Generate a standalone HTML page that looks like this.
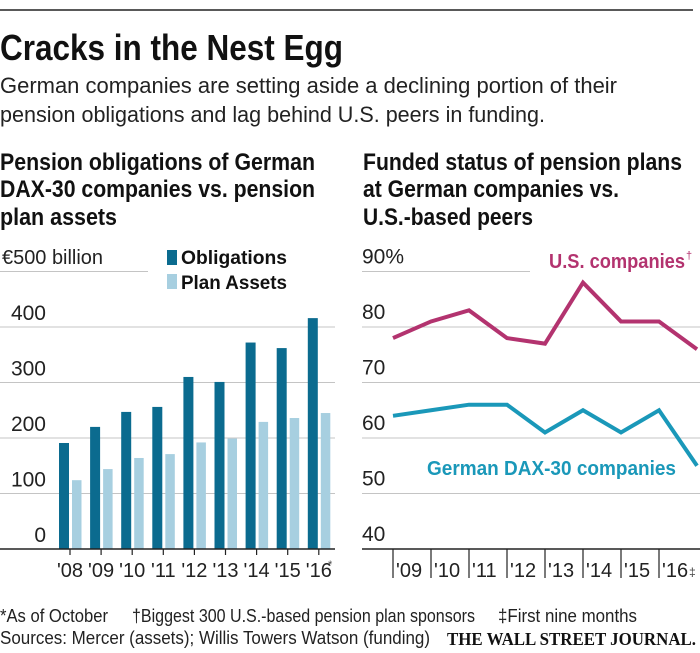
<!DOCTYPE html>
<html><head><meta charset="utf-8">
<style>
html,body{margin:0;padding:0;background:#fff;}
svg{display:block;font-family:"Liberation Sans",sans-serif;}
</style></head>
<body>
<svg id="chart" width="700" height="653" viewBox="0 0 700 653" xmlns="http://www.w3.org/2000/svg">
<line x1="0" y1="10" x2="693" y2="10" stroke="#222" stroke-width="1.5"/>
<text x="0" y="60" font-size="36" font-weight="bold" textLength="343" lengthAdjust="spacingAndGlyphs" fill="#111">Cracks in the Nest Egg</text>
<text x="0" y="93" font-size="22" textLength="617" lengthAdjust="spacingAndGlyphs" fill="#222">German companies are setting aside a declining portion of their</text>
<text x="0" y="122" font-size="22" textLength="545" lengthAdjust="spacingAndGlyphs" fill="#222">pension obligations and lag behind U.S. peers in funding.</text>
<g font-size="24" font-weight="bold" fill="#111">
<text x="0" y="170" textLength="315" lengthAdjust="spacingAndGlyphs">Pension obligations of German</text>
<text x="0" y="197" textLength="315" lengthAdjust="spacingAndGlyphs">DAX-30 companies vs. pension</text>
<text x="0" y="225" textLength="117" lengthAdjust="spacingAndGlyphs">plan assets</text>
</g>
<g font-size="24" font-weight="bold" fill="#111">
<text x="363" y="170" textLength="319" lengthAdjust="spacingAndGlyphs">Funded status of pension plans</text>
<text x="363" y="197" textLength="256" lengthAdjust="spacingAndGlyphs">at German companies vs.</text>
<text x="363" y="225" textLength="170" lengthAdjust="spacingAndGlyphs">U.S.-based peers</text>
</g>
<g id="left"></g>
<g id="right"></g>
<g font-size="18" fill="#222">
<text x="0" y="622" textLength="108" lengthAdjust="spacingAndGlyphs">*As of October</text>
<text x="132" y="622" textLength="343" lengthAdjust="spacingAndGlyphs">†Biggest 300 U.S.-based pension plan sponsors</text>
<text x="498" y="622" textLength="139" lengthAdjust="spacingAndGlyphs">‡First nine months</text>
<text x="0" y="644" textLength="430" lengthAdjust="spacingAndGlyphs">Sources: Mercer (assets); Willis Towers Watson (funding)</text>
</g>
<text x="447" y="645" font-family="Liberation Serif,serif" font-weight="bold" font-size="18" textLength="249" lengthAdjust="spacingAndGlyphs" fill="#111">THE WALL STREET JOURNAL.</text>
<script>
const barYears = ["'08","'09","'10","'11","'12","'13","'14","'15","'16"];
const obligations = [191,220,247,256,310,301,372,362,416];
const planAssets = [124,144,164,171,192,199,229,236,245];
const barTicks = [0,100,200,300,400];
const lineYears = ["'09","'10","'11","'12","'13","'14","'15","'16"];
const usFunded = [78,81,83,78,77,88,81,81,76];
const germanFunded = [64,65,66,66,61,65,61,65,55];
const lineTicks = [40,50,60,70,80,90];

const NS="http://www.w3.org/2000/svg";
function mk(parent,tag,attrs,text){const e=document.createElementNS(NS,tag);for(const k in attrs)e.setAttribute(k,attrs[k]);if(text!==undefined)e.textContent=text;parent.appendChild(e);return e;}

const L=document.getElementById('left');
const yL=v=>549-v*0.555;
const xL=i=>70+i*31.1;
barTicks.forEach(t=>{
  if(t>0){const g=mk(L,'line',{x1:0,x2:335,y1:yL(t),y2:yL(t),stroke:'#c4c4c4','stroke-width':1});
  
  }
  const lb=mk(L,'text',{x:46,y:yL(t)-7,'font-size':21,'text-anchor':'end',fill:'#222'},String(t));
  
  
});
{const g=mk(L,'line',{x1:0,x2:148,y1:yL(500),y2:yL(500),stroke:'#c4c4c4','stroke-width':1});


const t=mk(L,'text',{x:2,y:264,'font-size':20,textLength:101,lengthAdjust:'spacingAndGlyphs',fill:'#222'},'€500 billion');

}
obligations.forEach((v,i)=>{
  const r=mk(L,'rect',{x:xL(i)-11,y:yL(v),width:10,height:v*0.555,fill:'#0b6b8f'});
  
  
});
planAssets.forEach((v,i)=>{
  const r=mk(L,'rect',{x:xL(i)+2,y:yL(v),width:9.5,height:v*0.555,fill:'#a7cfe0'});
  
  
});
{const a=mk(L,'line',{x1:0,x2:335,y1:549,y2:549,stroke:'#222','stroke-width':1.5});

}
barYears.forEach((y,i)=>{
  const tk=mk(L,'line',{x1:xL(i),x2:xL(i),y1:549,y2:555,stroke:'#222','stroke-width':1.2});
  
  
  const lb=mk(L,'text',{x:xL(i),y:577,'font-size':20,'text-anchor':'middle',fill:'#222'},y);
  
  
});
{const s=mk(L,'text',{x:328,y:568,'font-size':11,fill:'#444'},'*');

}
[['Obligations','#0b6b8f',250,264],['Plan Assets','#a7cfe0',274,289]].forEach(([n,c,yt,yb],i)=>{
  const r=mk(L,'rect',{x:167,y:yt,width:10,height:15,fill:c});
  
  
  const t=mk(L,'text',{x:181,y:yb,'font-size':19,'font-weight':'bold',textLength:106,lengthAdjust:'spacingAndGlyphs',fill:'#111'},n);
  
  
});

const R=document.getElementById('right');
const yR=v=>549-(v-40)*5.55;
const xR=i=>393+i*38;
lineTicks.forEach(t=>{
  if(t>40){const g=mk(R,'line',{x1:362,x2:t===90?530:700,y1:yR(t),y2:yR(t),stroke:'#c4c4c4','stroke-width':1});
  
  }
  const lb=mk(R,'text',{x:362,y:yR(t)-8,'font-size':21,fill:'#222'},t===90?'90%':String(t));
  
  
});
{const a=mk(R,'line',{x1:362,x2:700,y1:549,y2:549,stroke:'#222','stroke-width':1.5});

}
lineYears.forEach((y,i)=>{
  const tk=mk(R,'line',{x1:xR(i),x2:xR(i),y1:549,y2:578,stroke:'#222','stroke-width':1.2});
  
  
  const lb=mk(R,'text',{x:xR(i)+3,y:577,'font-size':20,fill:'#222'},y);
  
  
});
{const s=mk(R,'text',{x:689,y:576,'font-size':12,fill:'#444'},'‡');

}
function pts(arr){return arr.map((v,i)=>xR(i)+','+yR(v)).join(' ');}
{const p=mk(R,'polyline',{points:pts(usFunded),fill:'none',stroke:'#b3336f','stroke-width':4,'stroke-linejoin':'miter'});


const q=mk(R,'polyline',{points:pts(germanFunded),fill:'none',stroke:'#1a98b9','stroke-width':4,'stroke-linejoin':'miter'});


const a=mk(R,'text',{x:549,y:268,'font-size':20,'font-weight':'bold',textLength:136,lengthAdjust:'spacingAndGlyphs',fill:'#b3336f'},'U.S. companies');


const d=mk(R,'text',{x:686,y:259,'font-size':11,fill:'#b3336f'},'†');


const b=mk(R,'text',{x:427,y:475,'font-size':20,'font-weight':'bold',textLength:249,lengthAdjust:'spacingAndGlyphs',fill:'#1a98b9'},'German DAX-30 companies');

}
</script>
</svg>
</body></html>
